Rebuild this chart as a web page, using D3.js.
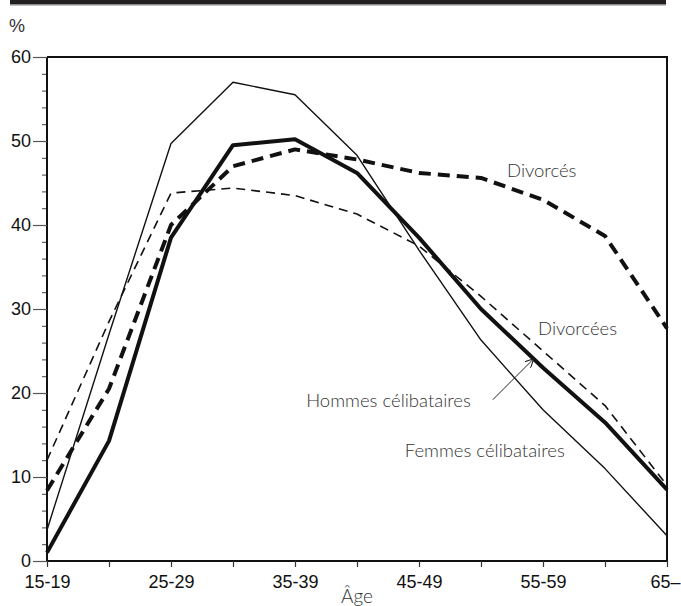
<!DOCTYPE html>
<html><head><meta charset="utf-8">
<script src="https://cdn.jsdelivr.net/npm/d3@7"></script>
<style>html,body{margin:0;padding:0;background:#fff;}svg{display:block;}</style>
</head><body>
<svg id="c" width="681" height="606"></svg>
<script>
const categories = ["15-19","20-24","25-29","30-34","35-39","40-44","45-49","50-54","55-59","60-64","65–"];
const tickLabels = ["15-19","","25-29","","35-39","","45-49","","55-59","","65–"];
const femmesCelib = [3.7, 27, 49.7, 57, 55.5, 48.3, 37, 26.3, 18, 11, 3];
const hommesCelib = [1, 14.3, 38.5, 49.5, 50.2, 46.2, 38.5, 30, 23, 16.5, 8.5];
const divorcees   = [12, 28.5, 43.8, 44.4, 43.5, 41.3, 37.5, 31.5, 25, 18.5, 9];
const divorces    = [8.4, 20.5, 40, 47, 49, 47.8, 46.2, 45.6, 43, 38.7, 27.7];
const yMajor = [0,10,20,30,40,50,60];
const yMinor = [2,4,6,8,12,14,16,18,22,24,26,28,32,34,36,38,42,44,46,48,52,54,56,58];

const svg = d3.select("#c");
const L=47, R=667, T=57, B=561;
const x = d3.scalePoint().domain(categories).range([L,R]);
const xi = d3.scaleLinear().domain([0,categories.length-1]).range([L,R]);
const y = d3.scaleLinear().domain([0,60]).range([B,T]);

// top bar
svg.append("rect").attr("x",10).attr("y",0).attr("width",656).attr("height",4.5).attr("fill","#231f20");
svg.append("line").attr("x1",10).attr("x2",666).attr("y1",5).attr("y2",5).attr("stroke","#888").attr("stroke-width",1);

// % label
svg.append("text").attr("x",9).attr("y",32).text("%")
  .attr("font-family","Liberation Sans, Arial, sans-serif").attr("font-size",18).attr("fill","#333");

// frame top & right
svg.append("path").attr("d",`M${L},${T}H${R}V${B}`).attr("fill","none").attr("stroke","#111").attr("stroke-width",2);

// y axis minor
const gMin = svg.append("g").attr("transform",`translate(${L},0)`)
  .call(d3.axisLeft(y).tickValues(yMinor).tickSize(5).tickFormat(""));
gMin.select(".domain").remove();
gMin.selectAll("line").attr("stroke","#444").attr("stroke-width",1);

// y axis major
const gy = svg.append("g").attr("transform",`translate(${L},0)`)
  .call(d3.axisLeft(y).tickValues(yMajor).tickSize(14).tickPadding(2).tickFormat(d3.format("d")));
gy.select(".domain").attr("stroke","#111").attr("stroke-width",2).attr("d",`M0,${T}V${B}`);
gy.selectAll("line").attr("stroke","#555").attr("stroke-width",1.2);
gy.selectAll("text").attr("font-family","Liberation Sans, Arial, sans-serif").attr("font-size",18).attr("fill","#111");

// x axis
const gx = svg.append("g").attr("transform",`translate(0,${B})`)
  .call(d3.axisBottom(x).tickSize(6).tickPadding(8).tickFormat((d,i)=>tickLabels[i]));
gx.select(".domain").attr("stroke","#111").attr("stroke-width",2).attr("d",`M${L},0H${R}`);
gx.selectAll("line").attr("stroke","#333").attr("stroke-width",1.2);
gx.selectAll("text").attr("font-family","Liberation Sans, Arial, sans-serif").attr("font-size",18).attr("fill","#111");
// keep the last label inside the picture
gx.selectAll("text").filter(d=>d===categories[categories.length-1])
  .attr("text-anchor","end").attr("x",680-R);

svg.append("text").attr("x",x("40-44")).attr("y",603).attr("text-anchor","middle").text("Âge")
  .attr("font-family","Lato, sans-serif").attr("font-weight",300).attr("font-size",19).attr("fill","#333");

const line = d3.line().x((d,i)=>x(categories[i])).y(d=>y(d));
const series = [
  {data: femmesCelib, w:1.4, dash:null},
  {data: divorcees, w:1.6, dash:"9,6"},
  {data: divorces, w:4, dash:"12,7"},
  {data: hommesCelib, w:4, dash:null}
];
series.forEach(s=>{
  svg.append("path").attr("d",line(s.data)).attr("fill","none").attr("stroke","#111")
    .attr("stroke-width",s.w).attr("stroke-dasharray",s.dash).attr("stroke-linejoin","round");
});

// annotations
const ann = [
  {t:"Divorcés", i:7.42, v:45.7},
  {t:"Divorcées", i:7.92, v:26.9},
  {t:"Hommes célibataires", i:4.18, v:18.3},
  {t:"Femmes célibataires", i:5.77, v:12.4}
];
svg.selectAll("text.ann").data(ann).join("text").attr("class","ann")
  .attr("x",d=>xi(d.i)).attr("y",d=>y(d.v)).text(d=>d.t)
  .attr("font-family","Lato, sans-serif").attr("font-weight",300).attr("font-size",18.5).attr("fill","#333");

// arrow
const defs = svg.append("defs");
defs.append("marker").attr("id","ah").attr("viewBox","0 0 10 10").attr("refX",9).attr("refY",5)
  .attr("markerWidth",9).attr("markerHeight",9).attr("orient","auto").attr("markerUnits","userSpaceOnUse")
  .append("path").attr("d","M0,0L10,5L0,10").attr("fill","none").attr("stroke","#222").attr("stroke-width",1.2);
svg.append("line").attr("x1",xi(7.19)).attr("y1",y(19.2)).attr("x2",xi(7.84)).attr("y2",y(24.0))
  .attr("stroke","#222").attr("stroke-width",1).attr("marker-end","url(#ah)");
</script>
</body></html>
